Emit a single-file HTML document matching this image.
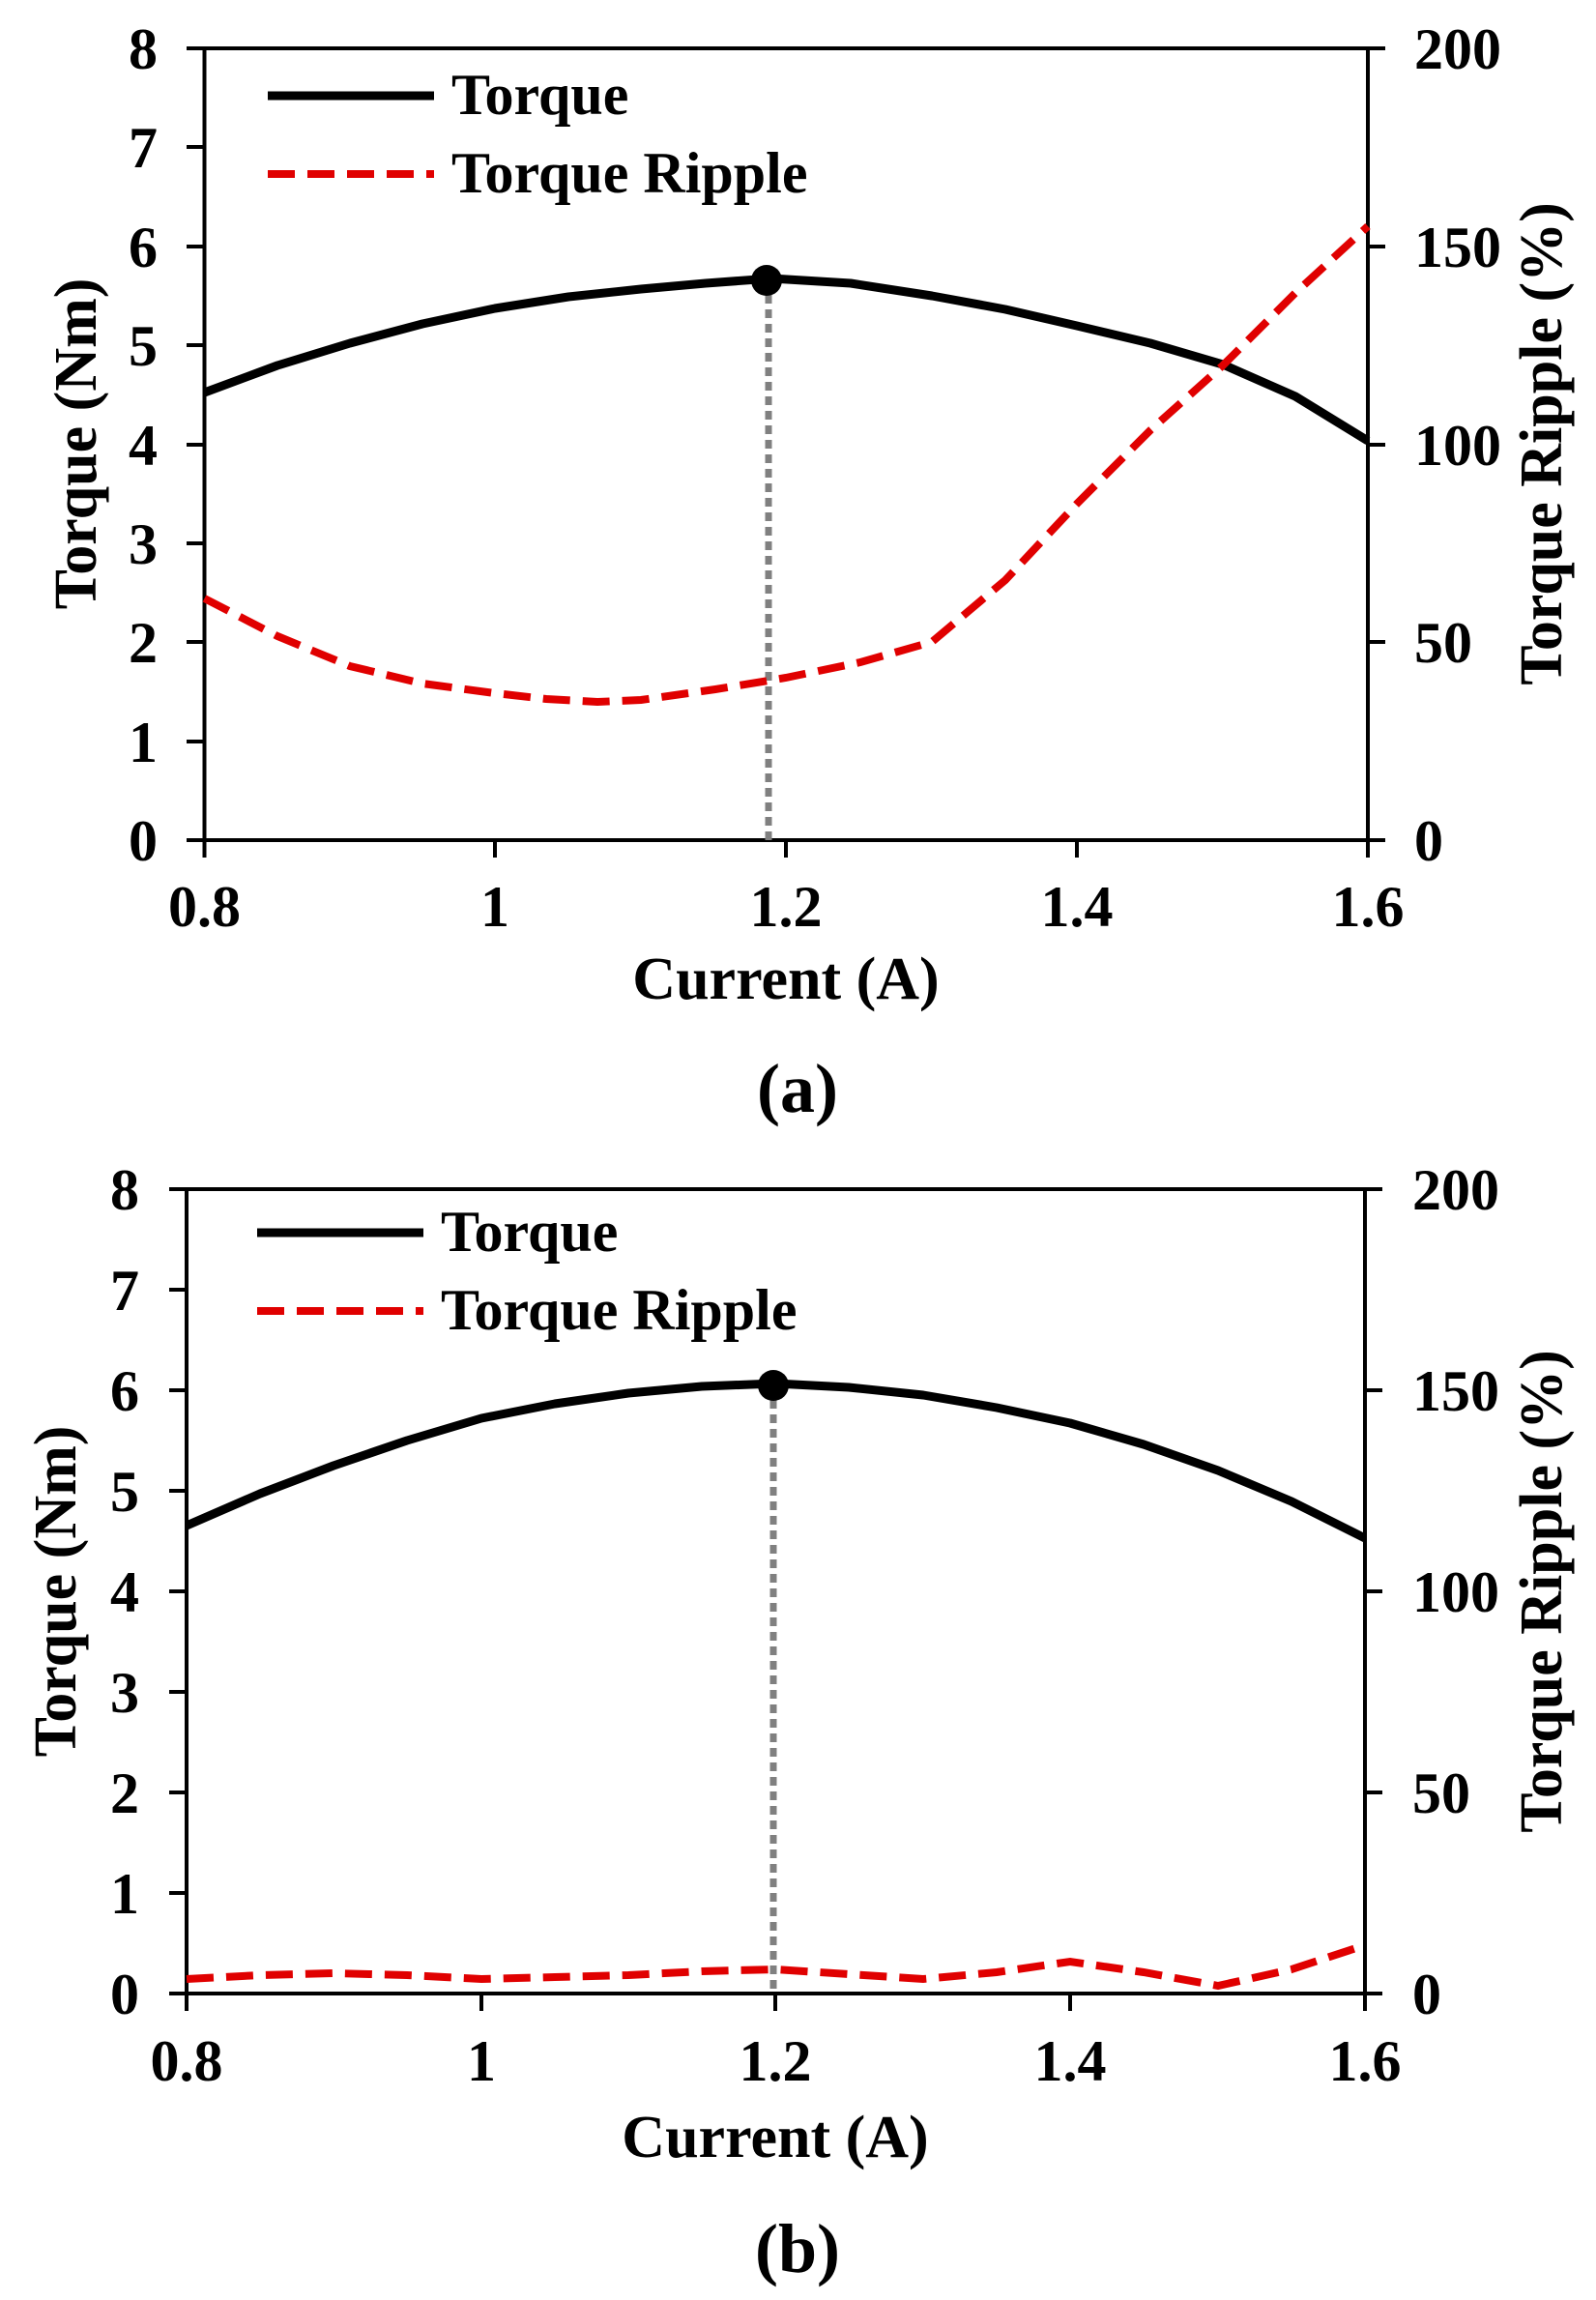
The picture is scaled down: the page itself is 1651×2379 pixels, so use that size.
<!DOCTYPE html>
<html><head><meta charset="utf-8"><style>
html,body{margin:0;padding:0;background:#fff}
svg{display:block}
text{font-family:"Liberation Serif",serif;font-weight:bold;fill:#000}
</style></head><body>
<svg width="1651" height="2379" viewBox="0 0 1651 2379" xmlns="http://www.w3.org/2000/svg">
<!-- Chart A -->
<g>
<rect x="211.5" y="50" width="1203.5" height="819" fill="none" stroke="#000" stroke-width="4"/>
<g stroke="#000" stroke-width="4">
<line x1="193" y1="50" x2="211" y2="50"/><line x1="193" y1="152" x2="211" y2="152"/><line x1="193" y1="255" x2="211" y2="255"/><line x1="193" y1="357" x2="211" y2="357"/><line x1="193" y1="460" x2="211" y2="460"/><line x1="193" y1="562" x2="211" y2="562"/><line x1="193" y1="664" x2="211" y2="664"/><line x1="193" y1="767" x2="211" y2="767"/><line x1="193" y1="869" x2="211" y2="869"/>
<line x1="1415" y1="50" x2="1433" y2="50"/><line x1="1415" y1="255" x2="1433" y2="255"/><line x1="1415" y1="460" x2="1433" y2="460"/><line x1="1415" y1="664" x2="1433" y2="664"/><line x1="1415" y1="869" x2="1433" y2="869"/>
<line x1="211.5" y1="869" x2="211.5" y2="887"/><line x1="512" y1="869" x2="512" y2="887"/><line x1="813" y1="869" x2="813" y2="887"/><line x1="1114" y1="869" x2="1114" y2="887"/><line x1="1415" y1="869" x2="1415" y2="887"/>
</g>
<g font-size="60" text-anchor="end">
<text x="163" y="71">8</text><text x="163" y="173">7</text><text x="163" y="276">6</text><text x="163" y="378">5</text><text x="163" y="481">4</text><text x="163" y="583">3</text><text x="163" y="685">2</text><text x="163" y="788">1</text><text x="163" y="890">0</text>
</g>
<g font-size="60" text-anchor="start">
<text x="1463" y="71">200</text><text x="1463" y="276">150</text><text x="1463" y="481">100</text><text x="1463" y="685">50</text><text x="1463" y="890">0</text>
</g>
<g font-size="60" text-anchor="middle">
<text x="211.5" y="958">0.8</text><text x="512" y="958">1</text><text x="813" y="958">1.2</text><text x="1114" y="958">1.4</text><text x="1415" y="958">1.6</text>
<text x="813" y="1033" font-size="62">Current (A)</text>
<text x="825" y="1150" font-size="72">(a)</text>
<text transform="translate(99,459) rotate(-90)" font-size="62">Torque (Nm)</text>
<text transform="translate(1615,459) rotate(-90)" font-size="62">Torque Ripple (%)</text>
</g>
<line x1="795" y1="290" x2="795" y2="869" stroke="#808080" stroke-width="7" stroke-dasharray="9,6"/>
<polyline fill="none" stroke="#000" stroke-width="9" stroke-linejoin="round" points="211.5,406 287,378 362,355 437,335 512,319 588,307 663,299 730,293 798,288 880,293 964,306 1040,320 1114,337 1190,355 1265,377 1340,410 1415,456"/>
<polyline fill="none" stroke="#e00000" stroke-width="8" stroke-dasharray="28,13" points="211.5,619 287,658 362,689 437,707 512,717 565,723 618,726 663,724 740,713 813,701 890,685 964,664 1040,600 1114,521 1190,445 1265,378 1340,303 1415,234"/>
<circle cx="793" cy="290" r="16" fill="#000"/>
<line x1="277" y1="99" x2="449" y2="99" stroke="#000" stroke-width="9"/>
<line x1="277" y1="180" x2="449" y2="180" stroke="#e00000" stroke-width="8" stroke-dasharray="28,13"/>
<text x="467" y="118" font-size="60">Torque</text>
<text x="467" y="199" font-size="60">Torque Ripple</text>
</g>
<!-- Chart B -->
<g>
<rect x="193" y="1230" width="1219" height="832" fill="none" stroke="#000" stroke-width="4"/>
<g stroke="#000" stroke-width="4">
<line x1="175" y1="1230" x2="193" y2="1230"/><line x1="175" y1="1334" x2="193" y2="1334"/><line x1="175" y1="1438" x2="193" y2="1438"/><line x1="175" y1="1542" x2="193" y2="1542"/><line x1="175" y1="1646" x2="193" y2="1646"/><line x1="175" y1="1750" x2="193" y2="1750"/><line x1="175" y1="1854" x2="193" y2="1854"/><line x1="175" y1="1958" x2="193" y2="1958"/><line x1="175" y1="2062" x2="193" y2="2062"/>
<line x1="1412" y1="1230" x2="1430" y2="1230"/><line x1="1412" y1="1438" x2="1430" y2="1438"/><line x1="1412" y1="1646" x2="1430" y2="1646"/><line x1="1412" y1="1854" x2="1430" y2="1854"/><line x1="1412" y1="2062" x2="1430" y2="2062"/>
<line x1="193" y1="2062" x2="193" y2="2080"/><line x1="498" y1="2062" x2="498" y2="2080"/><line x1="802" y1="2062" x2="802" y2="2080"/><line x1="1107" y1="2062" x2="1107" y2="2080"/><line x1="1412" y1="2062" x2="1412" y2="2080"/>
</g>
<g font-size="60" text-anchor="end">
<text x="144" y="1251">8</text><text x="144" y="1355">7</text><text x="144" y="1459">6</text><text x="144" y="1563">5</text><text x="144" y="1667">4</text><text x="144" y="1771">3</text><text x="144" y="1875">2</text><text x="144" y="1979">1</text><text x="144" y="2083">0</text>
</g>
<g font-size="60" text-anchor="start">
<text x="1461" y="1251">200</text><text x="1461" y="1459">150</text><text x="1461" y="1667">100</text><text x="1461" y="1875">50</text><text x="1461" y="2083">0</text>
</g>
<g font-size="60" text-anchor="middle">
<text x="193" y="2152">0.8</text><text x="498" y="2152">1</text><text x="802" y="2152">1.2</text><text x="1107" y="2152">1.4</text><text x="1412" y="2152">1.6</text>
<text x="802" y="2231" font-size="62">Current (A)</text>
<text x="825" y="2350" font-size="72">(b)</text>
<text transform="translate(78,1646) rotate(-90)" font-size="62">Torque (Nm)</text>
<text transform="translate(1615,1646) rotate(-90)" font-size="62">Torque Ripple (%)</text>
</g>
<line x1="800" y1="1433" x2="800" y2="2062" stroke="#808080" stroke-width="7" stroke-dasharray="9,6"/>
<polyline fill="none" stroke="#000" stroke-width="9" stroke-linejoin="round" points="193,1578 269,1545 345,1516 421,1490 498,1467 574,1452 650,1441 726,1434 802,1431 878,1435 955,1443 1031,1456 1107,1472 1183,1494 1260,1521 1336,1553 1412,1591"/>
<polyline fill="none" stroke="#e00000" stroke-width="8" stroke-dasharray="28,13" points="193,2047 269,2043 345,2041 421,2043 498,2047 574,2045 650,2043 726,2039 802,2037 878,2042 955,2047 1031,2040 1107,2029 1183,2040 1260,2054 1336,2037 1412,2012"/>
<circle cx="800" cy="1433" r="16" fill="#000"/>
<line x1="266" y1="1275" x2="438" y2="1275" stroke="#000" stroke-width="9"/>
<line x1="266" y1="1356" x2="438" y2="1356" stroke="#e00000" stroke-width="8" stroke-dasharray="28,13"/>
<text x="456" y="1294" font-size="60">Torque</text>
<text x="456" y="1375" font-size="60">Torque Ripple</text>
</g>
</svg>
</body></html>
